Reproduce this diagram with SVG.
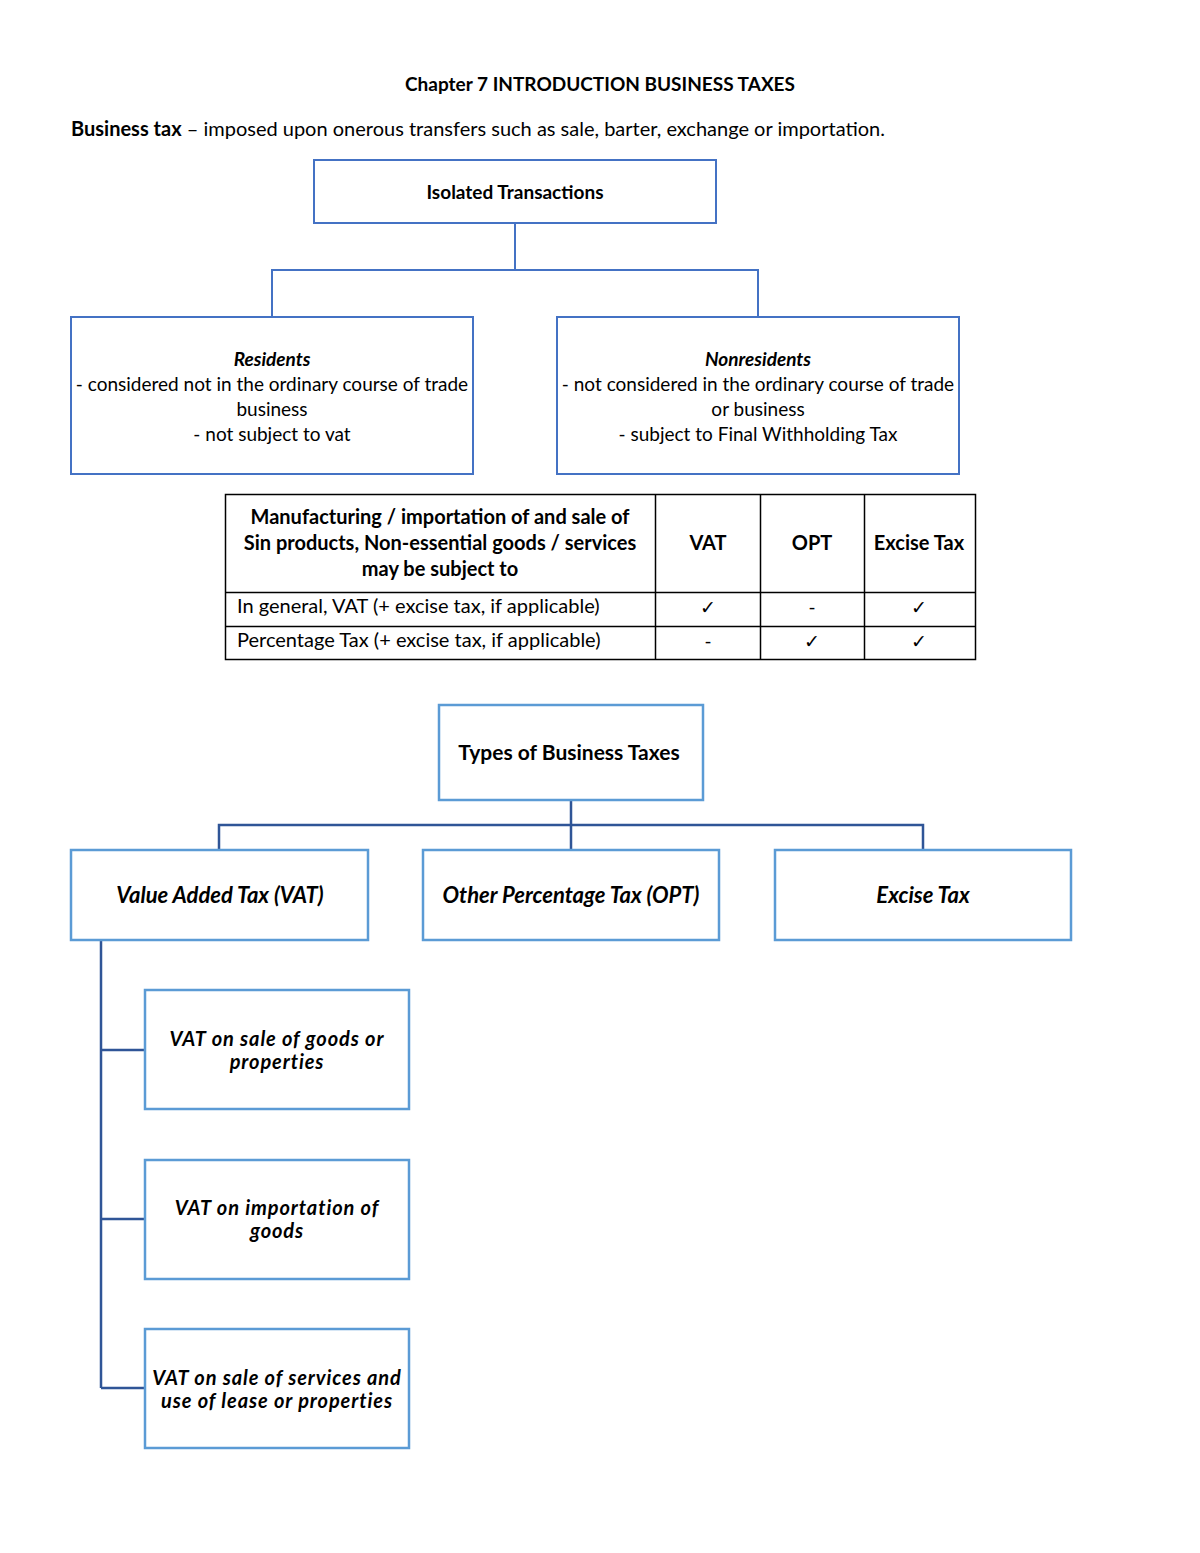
<svg xmlns="http://www.w3.org/2000/svg" width="1200" height="1553" viewBox="0 0 1200 1553">
<style>
text{font-family:Lato,"Liberation Sans",sans-serif;fill:#000}
.t{font-size:19px}
.t20{font-size:20px}
.t22{font-size:22px}
.c{text-anchor:middle}
.b{font-weight:bold}
.i{font-style:italic}
.box1{fill:#fff;stroke:#4472C4;stroke-width:2}
.box2{fill:#fff;stroke:#5B9BD5;stroke-width:2.5}
.con1{fill:none;stroke:#4472C4;stroke-width:2}
.con2{fill:none;stroke:#2F5597;stroke-width:2.5}
.grid{fill:none;stroke:#000;stroke-width:1.5}
.sub{font-family:Lato,"Liberation Sans",sans-serif;font-size:20px;font-weight:bold;font-style:italic;letter-spacing:0.9px}
</style>
<rect width="1200" height="1553" fill="#fff"/>
<g id="header">
<text class="t b c" x="600" y="91">Chapter 7 INTRODUCTION BUSINESS TAXES</text>
<text class="t20" x="71" y="136" textLength="814" lengthAdjust="spacing"><tspan class="b">Business tax</tspan> – imposed upon onerous transfers such as sale, barter, exchange or importation.</text>
</g>
<g id="connectors">
<path class="con1" d="M515 223V270M272 317V270H758V317"/>
<path class="con2" d="M571 800V825M219 850V825H923V850M571 825V850"/>
<path class="con2" d="M101 940V1388M101 1050H145M101 1219H145M101 1388H145"/>
</g>
<g id="isolated">
<rect class="box1" x="314" y="160" width="402" height="63"/>
<text class="t b c" x="515" y="199">Isolated Transactions</text>
</g>
<g id="residents">
<rect class="box1" x="71" y="317" width="402" height="157"/>
<text class="t c" x="272" y="366"><tspan class="b i">Residents</tspan><tspan x="272" dy="25">- considered not in the ordinary course of trade</tspan><tspan x="272" dy="25">business</tspan><tspan x="272" dy="25">- not subject to vat</tspan></text>
</g>
<g id="nonresidents">
<rect class="box1" x="557" y="317" width="402" height="157"/>
<text class="t c" x="758" y="366"><tspan class="b i">Nonresidents</tspan><tspan x="758" dy="25">- not considered in the ordinary course of trade</tspan><tspan x="758" dy="25">or business</tspan><tspan x="758" dy="25">- subject to Final Withholding Tax</tspan></text>
</g>
<g id="table">
<rect class="grid" x="225.5" y="494.5" width="750" height="165"/>
<path class="grid" d="M655.5 494V660M760.5 494V660M864.5 494V660M225 592.5H976M225 626.5H976"/>
<text class="t20 b c" x="440" y="524">Manufacturing / importation of and sale of<tspan x="440" dy="26">Sin products, Non-essential goods / services</tspan><tspan x="440" dy="26">may be subject to</tspan></text>
<text class="t20 b c" x="708" y="550">VAT</text>
<text class="t20 b c" x="812" y="550">OPT</text>
<text class="t20 b c" x="919" y="550">Excise Tax</text>
<text class="t20" x="237" y="613">In general, VAT (+ excise tax, if applicable)</text>
<text class="t20" x="237" y="647">Percentage Tax (+ excise tax, if applicable)</text>
<text class="t c" x="708" y="614">✓</text>
<text class="t c" x="812" y="614">-</text>
<text class="t c" x="919" y="614">✓</text>
<text class="t c" x="708" y="648">-</text>
<text class="t c" x="812" y="648">✓</text>
<text class="t c" x="919" y="648">✓</text>
</g>
<g id="types">
<rect class="box2" x="439" y="705" width="264" height="95"/>
<text class="t b c" x="569" y="760" style="font-size:21px">Types of Business Taxes</text>
</g>
<g id="vat">
<rect class="box2" x="71" y="850" width="297" height="90"/>
<text class="t22 b i c" x="220" y="903">Value Added Tax (VAT)</text>
</g>
<g id="opt">
<rect class="box2" x="423" y="850" width="296" height="90"/>
<text class="t22 b i c" x="571" y="903">Other Percentage Tax (OPT)</text>
</g>
<g id="excise">
<rect class="box2" x="775" y="850" width="296" height="90"/>
<text class="t22 b i c" x="923" y="903">Excise Tax</text>
</g>
<g id="vat-goods">
<rect class="box2" x="145" y="990" width="264" height="119"/>
<text class="sub c" x="277" y="1046">VAT on sale of goods or<tspan x="277" dy="23">properties</tspan></text>
</g>
<g id="vat-import">
<rect class="box2" x="145" y="1160" width="264" height="119"/>
<text class="sub c" x="277" y="1215">VAT on importation of<tspan x="277" dy="23">goods</tspan></text>
</g>
<g id="vat-services">
<rect class="box2" x="145" y="1329" width="264" height="119"/>
<text class="sub c" x="277" y="1385">VAT on sale of services and<tspan x="277" dy="23">use of lease or properties</tspan></text>
</g>
</svg>
